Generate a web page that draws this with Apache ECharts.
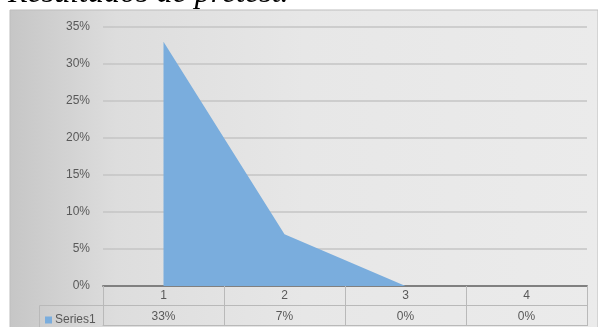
<!DOCTYPE html>
<html>
<head>
<meta charset="utf-8">
<script src="https://cdn.jsdelivr.net/npm/echarts@6/dist/echarts.min.js"></script>
<style>
  html, body { margin: 0; padding: 0; background: #ffffff; }
  #chart { width: 598px; height: 327px; }
</style>
</head>
<body>
<div id="chart"></div>
<script>
// Pretest results: share per item
const categories = ['1', '2', '3', '4'];
const seriesName = 'Series1';
const values = [0.33, 0.07, 0, 0];
const yTicks = [0, 0.05, 0.10, 0.15, 0.20, 0.25, 0.30, 0.35];

const pct = v => Math.round(v * 100) + '%';
const textColor = '#595959';
const tableLine = '#b9b9b9';
const font = 'Liberation Sans';

const chart = echarts.init(document.getElementById('chart'), null, { renderer: 'canvas' });

chart.setOption({
  animation: false,
  graphic: [
    {
      type: 'rect', z: -10, silent: true,
      shape: { x: 10, y: 10, width: 588, height: 320 },
      style: {
        fill: new echarts.graphic.LinearGradient(0, 0, 1, 0, [
          { offset: 0, color: '#c6c6c6' },
          { offset: 0.18, color: '#dddddd' },
          { offset: 0.5, color: '#e7e7e7' },
          { offset: 1, color: '#ebebeb' }
        ]),
        stroke: '#bdbdbd', lineWidth: 1
      }
    },
    {
      type: 'text', z: 10, silent: true,
      style: {
        x: 8, y: -22,
        text: 'Resultados de pretest.',
        font: 'italic 32px "Liberation Serif"',
        fill: '#000000'
      }
    },
    {
      // row header cell of the data table
      type: 'polyline', z: 5, silent: true,
      shape: { points: [[103, 305.5], [39.5, 305.5], [39.5, 330]] },
      style: { stroke: tableLine, lineWidth: 1, fill: null }
    }
  ],
  legend: {
    left: 40, top: 309,
    itemWidth: 7, itemHeight: 7, itemGap: 4,
    icon: 'rect',
    data: [seriesName],
    textStyle: { color: textColor, fontFamily: font, fontSize: 12, padding: [0, 0, 0, -2] }
  },
  grid: { left: 103, right: 11, top: 27, bottom: 41, containLabel: false },
  xAxis: [
    {
      type: 'category', data: categories, boundaryGap: true, position: 'bottom',
      axisLine: { show: true, lineStyle: { color: '#808080', width: 2 } },
      axisTick: { show: true, length: 40, lineStyle: { color: tableLine, width: 1 } },
      axisLabel: { color: textColor, fontFamily: font, fontSize: 12, margin: 4 }
    },
    {
      type: 'category', data: categories, boundaryGap: true, position: 'bottom', offset: 19,
      axisLine: { show: true, lineStyle: { color: tableLine, width: 1 } },
      axisTick: { show: false },
      axisLabel: {
        color: textColor, fontFamily: font, fontSize: 12, margin: 6,
        formatter: (v, i) => pct(values[i])
      }
    },
    {
      type: 'category', data: categories, boundaryGap: true, position: 'bottom', offset: 39,
      axisLine: { show: true, lineStyle: { color: tableLine, width: 1 } },
      axisTick: { show: false },
      axisLabel: { show: false }
    }
  ],
  yAxis: {
    type: 'value', min: 0, max: 0.35, interval: 0.05,
    axisLine: { show: false }, axisTick: { show: false },
    axisLabel: {
      color: textColor, fontFamily: font, fontSize: 12, margin: 13,
      formatter: v => yTicks.some(t => Math.abs(t - v) < 1e-9) ? pct(v) : ''
    },
    splitLine: { lineStyle: { color: '#c4c4c4', width: 1.5 } }
  },
  series: [{
    name: seriesName,
    type: 'line',
    data: values,
    showSymbol: false,
    symbol: 'none',
    color: '#7aaddd',
    lineStyle: { width: 0 },
    areaStyle: { color: '#7aaddd', opacity: 1 },
    z: 3
  }]
});
</script>
</body>
</html>
